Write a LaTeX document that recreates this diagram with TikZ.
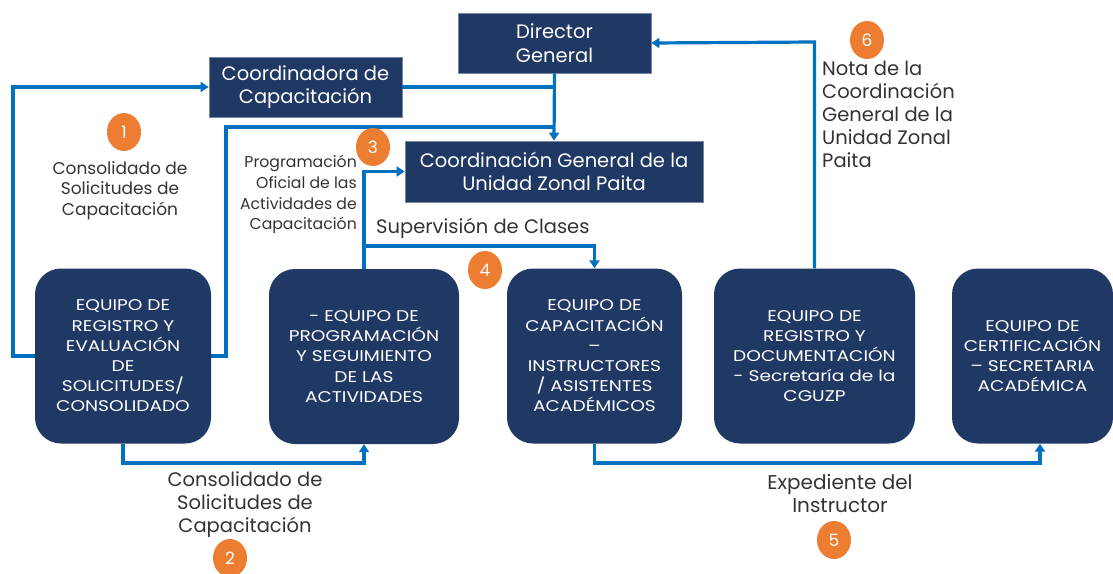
\documentclass[tikz,border=0pt]{standalone}
\usepackage{fontspec}
\setmainfont{Poppins}
\newfontfamily\widepop[FakeStretch=1.2]{Poppins}
\usetikzlibrary{arrows.meta,shapes.geometric}
\definecolor{navy}{HTML}{1F3864}
\definecolor{lineblue}{HTML}{0070C0}
\definecolor{badgeor}{HTML}{ED7D31}
\definecolor{txtgray}{HTML}{333333}
\begin{document}
\begin{tikzpicture}[x=1pt,y=-1pt,
  topbox/.style={fill=navy, draw=navy!60!white, line width=0.8pt, text=white, align=center, inner sep=0pt, font=\fontsize{19.5}{23.5}\selectfont},
  team/.style={fill=navy, rounded corners=26pt, text=white, align=center, inner sep=0pt, minimum height=175, font=\widepop\fontsize{15.5}{20.2}\selectfont},
  conn/.style={draw=lineblue, line width=3.2pt},
  arr/.style={conn, -{Triangle[width=10pt,length=8pt]}},
  badge/.style={ellipse, fill=badgeor, text=white, minimum width=34, minimum height=38, inner sep=0pt, font=\fontsize{17}{17}\selectfont},
  note/.style={text=txtgray, align=center, inner sep=0pt, font=\fontsize{19.5}{23}\selectfont}]
\useasboundingbox (0,0) rectangle (1113,573);
% boxes
\node[topbox, minimum width=193, minimum height=60] (dir) at (554.5,43) {Director\\General};
\node[topbox, minimum width=193, minimum height=60] (coord) at (305.5,87) {Coordinadora de\\Capacitación};
\node[topbox, minimum width=298, minimum height=61] (cg) at (554,171.5) {Coordinación General de la\\Unidad Zonal Paita};
\node[team, minimum width=176] (b1) at (123,356) {EQUIPO DE\\REGISTRO Y\\EVALUACIÓN\\DE\\SOLICITUDES/\\CONSOLIDADO};
\node[team, minimum width=190] (b2) at (364,356.5) {- EQUIPO DE\\PROGRAMACIÓN\\Y SEGUIMIENTO\\DE LAS\\ACTIVIDADES};
\node[team, minimum width=175] (b3) at (594.5,356) {EQUIPO DE\\CAPACITACIÓN\\–\\INSTRUCTORES\\/ ASISTENTES\\ACADÉMICOS};
\node[team, minimum width=201] (b4) at (814.5,356) {EQUIPO DE\\REGISTRO Y\\DOCUMENTACIÓN\\- Secretaría de la\\CGUZP};
\node[team, minimum width=161] (b5) at (1032.5,356) {EQUIPO DE\\CERTIFICACIÓN\\– SECRETARIA\\ACADÉMICA};
% helper coordinates
\coordinate (lx) at (13,0);
\coordinate (rx) at (226,0);
\coordinate (y2) at (0,127);
\coordinate (ysup) at (0,246);
\coordinate (ybot) at (0,463);
\coordinate (x5) at (1040,0);
\coordinate (ynota) at (0,42);
% connectors
\draw[arr] (b1.west) -- (b1.west -| lx) |- (coord.west);
\draw[conn] (b1.east) -- (b1.east -| rx) |- (dir.south |- y2);
\draw[conn] (coord.east) -- (coord.east -| dir.south);
\draw[arr] (dir.south) -- (cg.north);
\draw[arr] (b2.north) |- (cg.west);
\draw[arr] (b2.north |- ysup) -| (b3.north);
\draw[arr] (b1.south) -- (b1.south |- ybot) -| (b2.south);
\draw[arr] (b3.south) -- (b3.south |- ybot) -| (x5 |- b5.south);
\draw[arr] (b4.north) -- (b4.north |- ynota) -- (dir.east);
% labels
\node[note, font=\fontsize{17}{20.5}\selectfont] (t1) at (120,190.5) {Consolidado de\\Solicitudes de\\Capacitación};
\node[note, align=right, anchor=east, font=\fontsize{15.7}{20.7}\selectfont] (t3) at (357,194.5) {Programación\\Oficial de las\\Actividades de\\Capacitación};
\node[note, anchor=west] (t4) at (376,228) {Supervisión de Clases};
\node[note] (t2) at (245,505) {Consolidado de\\Solicitudes de\\Capacitación};
\node[note, font=\fontsize{20}{23}\selectfont] (t5) at (840,493.5) {Expediente del\\Instructor};
\node[note, align=left, anchor=west] (t6) at (822,114) {Nota de la\\Coordinación\\General de la\\Unidad Zonal\\Paita};
% badges
\node[badge] (n1) at (124,132) {1};
\node[badge] (n2) at (230,558) {2};
\node[badge] (n3) at (373,147) {3};
\node[badge] (n4) at (485,270) {4};
\node[badge] (n5) at (834,540) {5};
\node[badge] (n6) at (867,40) {6};
\end{tikzpicture}
\end{document}
